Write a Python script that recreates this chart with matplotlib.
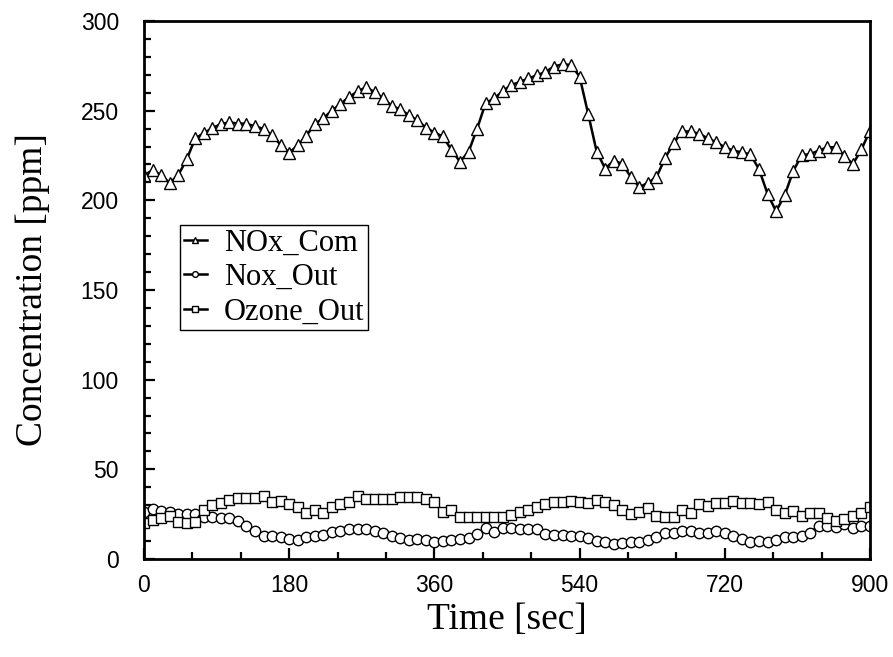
import numpy as np
import matplotlib
matplotlib.use('Agg')
import matplotlib.pyplot as plt
from matplotlib.ticker import MultipleLocator

# time axis: 86 samples over 900 sec
time_sec = np.linspace(0, 900, 86)

nox_com = [214.0, 216.8, 214.0, 209.7, 214.0, 222.8, 234.6, 237.4, 240.3, 242.5,
           243.5, 242.8, 242.8, 241.2, 239.9, 236.2, 231.0, 226.6, 230.6, 236.0,
           242.5, 245.9, 250.0, 253.8, 257.6, 260.7, 263.1, 260.3, 257.0, 252.6,
           250.8, 247.5, 244.6, 240.6, 237.8, 235.6, 228.1, 221.5, 227.1, 239.9,
           254.3, 256.8, 260.9, 264.3, 266.0, 268.0, 269.7, 271.6, 274.6, 275.9,
           275.5, 269.0, 248.3, 227.1, 217.7, 222.1, 220.4, 213.0, 207.4, 209.7,
           213.0, 223.4, 231.8, 238.4, 238.4, 237.1, 234.6, 232.4, 229.6, 227.7,
           226.8, 225.6, 217.4, 203.7, 193.9, 202.7, 216.2, 225.2, 225.8, 227.7,
           229.6, 229.6, 224.7, 220.2, 228.4, 238.9]

nox_out = [26.0, 27.9, 26.9, 26.0, 25.1, 25.1, 25.1, 23.6, 23.2, 22.6,
           22.6, 21.3, 18.4, 15.8, 12.8, 12.8, 12.4, 11.0, 10.6, 12.1,
           12.8, 13.4, 14.9, 15.6, 16.5, 16.5, 16.5, 15.8, 14.7, 12.8,
           11.5, 10.6, 11.2, 10.6, 9.6, 10.0, 10.6, 11.2, 11.5, 13.9,
           17.1, 15.2, 17.1, 17.5, 16.5, 16.7, 16.5, 13.9, 13.4, 13.4,
           12.8, 12.8, 11.5, 10.0, 9.3, 8.2, 9.0, 9.6, 9.6, 10.6,
           12.1, 14.7, 14.7, 15.6, 15.6, 14.3, 14.3, 15.8, 14.7, 12.8,
           11.2, 9.3, 10.0, 9.6, 10.6, 12.1, 12.1, 12.8, 14.7, 18.6,
           18.4, 18.0, 19.5, 17.5, 18.6, 18.6]

ozone_out = [19.9, 21.7, 22.6, 23.9, 20.8, 20.2, 20.8, 27.3, 30.1, 31.4,
             32.9, 34.2, 34.2, 34.2, 35.3, 31.6, 32.5, 30.6, 29.2, 25.8,
             27.6, 25.8, 29.2, 30.6, 31.9, 35.1, 33.2, 33.2, 33.6, 33.4,
             34.4, 34.4, 34.4, 33.2, 31.6, 26.0, 27.3, 23.6, 23.2, 23.6,
             23.2, 23.2, 23.2, 24.5, 26.4, 27.6, 28.8, 30.6, 31.9, 31.6,
             32.5, 31.6, 31.0, 32.9, 31.9, 30.1, 27.3, 25.1, 26.0, 28.2,
             23.9, 23.2, 23.6, 27.3, 25.8, 30.4, 29.7, 31.0, 31.0, 32.5,
             31.0, 31.0, 30.4, 31.6, 27.6, 25.4, 26.9, 23.9, 25.4, 25.4,
             22.6, 21.2, 22.1, 23.9, 25.4, 29.2]

fig = plt.figure(figsize=(8.93, 6.57), dpi=100)
ax = fig.add_axes([144/893, 98/657, 726/893, 538/657])

style = dict(color='black', linewidth=1.8, mfc='white', mec='black', mew=1.0)
ax.plot(time_sec, nox_com, marker='^', ms=9, label='NOx_Com', **style)
ax.plot(time_sec, nox_out, marker='o', ms=7.5, label='Nox_Out', **style)
ax.plot(time_sec, ozone_out, marker='s', ms=7, label='Ozone_Out', **style)

ax.set_xlim(0, 900)
ax.set_ylim(0, 300)
ax.xaxis.set_major_locator(MultipleLocator(180))
ax.xaxis.set_minor_locator(MultipleLocator(60))
ax.yaxis.set_major_locator(MultipleLocator(50))
ax.yaxis.set_minor_locator(MultipleLocator(10))
ax.tick_params(which='both', direction='in', top=False, right=False, width=1.6)
ax.tick_params(which='major', length=8)
ax.tick_params(which='minor', length=5)
ax.tick_params(axis='x', which='major', pad=11)
ax.tick_params(axis='y', which='major', pad=18)
for s in ax.spines.values():
    s.set_linewidth(2.0)

for lab in ax.get_xticklabels() + ax.get_yticklabels():
    lab.set_fontfamily('Liberation Sans')
    lab.set_fontsize(16.5)

font_lab = {'family': 'Liberation Serif', 'color': 'black', 'size': 27}
ax.set_xlabel('Time [sec]', fontdict=font_lab, labelpad=4)
ax.set_ylabel('Concentration [ppm]', fontdict=font_lab, labelpad=22)

leg = ax.legend(loc='upper left', bbox_to_anchor=(0.05, 0.621), borderaxespad=0,
                prop={'family': 'Liberation Serif', 'size': 22}, fancybox=False,
                edgecolor='black', framealpha=1, handlelength=0.75, handletextpad=0.55,
                labelspacing=0.18, borderpad=0.12, markerscale=0.55)
leg.get_frame().set_linewidth(1.0)

plt.savefig('out.png', dpi=100)
